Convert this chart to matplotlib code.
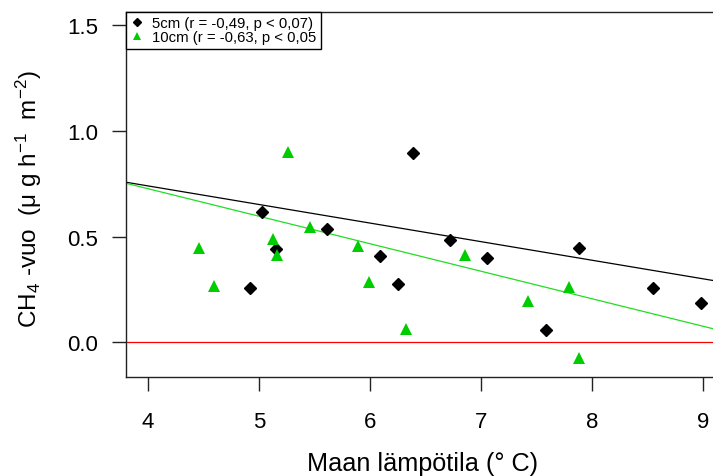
"""CH4 flux vs. soil temperature at 5 cm and 10 cm depth
"""
import matplotlib
matplotlib.use('Agg')
import matplotlib.pyplot as plt

plt.rcParams['font.family'] = ['Liberation Sans', 'DejaVu Sans']
plt.rcParams['mathtext.fontset'] = 'custom'
plt.rcParams['mathtext.rm'] = 'Liberation Sans'
plt.rcParams['mathtext.it'] = 'Liberation Sans:italic'

# 5 cm soil temperature vs. CH4 flux
temp_5cm = [4.924, 5.027, 5.156, 5.618, 6.090, 6.255, 6.387,
            6.723, 7.057, 7.586, 7.888, 8.555, 8.987]
flux_5cm = [0.256, 0.617, 0.443, 0.537, 0.408, 0.275, 0.897,
            0.484, 0.398, 0.058, 0.446, 0.256, 0.185]

# 10 cm soil temperature vs. CH4 flux
temp_10cm = [4.459, 4.595, 5.126, 5.165, 5.264, 5.462, 5.892,
             5.994, 6.327, 6.861, 7.423, 7.793, 7.888]
flux_10cm = [0.447, 0.264, 0.489, 0.414, 0.901, 0.544, 0.455,
             0.283, 0.063, 0.411, 0.194, 0.259, -0.076]

# fitted lines (intercept, slope)
fit_5cm = (1.092, -0.0880)
fit_10cm = (1.248, -0.1303)

labels = ["5cm (r = -0,49, p < 0,07)", "10cm (r = -0,63, p < 0,05"]
x_ticks = [4, 5, 6, 7, 8, 9]
y_ticks = [0.0, 0.5, 1.0, 1.5]

GREEN = '#00CD00'

fig = plt.figure(figsize=(7.13, 4.77), dpi=100)
ax = fig.add_axes([0.1763, 0.2082, 0.8404, 0.7646])

xlim = (3.8, 9.2)
ax.set_xlim(xlim)
ax.set_ylim(-0.164, 1.564)

ax.axhline(0, color='red', lw=0.9, zorder=1)
for (a, b), col in ((fit_5cm, 'black'), (fit_10cm, '#22DD22')):
    ax.plot(xlim, [a + b * xlim[0], a + b * xlim[1]], color=col, lw=0.9, zorder=2)

h1, = ax.plot(temp_5cm, flux_5cm, 'D', color='black', ms=5.8, ls='none', zorder=3)
h2, = ax.plot(temp_10cm, flux_10cm, '^', color=GREEN, ms=8.5, ls='none',
              markeredgewidth=0, zorder=3)

leg = ax.legend([h1, h2], labels, loc='upper left', borderaxespad=0,
                fontsize=10.7, borderpad=0.3, labelspacing=0,
                handlelength=0.9, handletextpad=0.6, markerscale=0.65,
                fancybox=False, framealpha=1, edgecolor='black')
leg.get_frame().set_linewidth(1.0)

ax.set_xticks(x_ticks)
ax.set_xticklabels([str(t) for t in x_ticks])
ax.set_yticks(y_ticks)
ax.set_yticklabels([f"{t:.1f}" for t in y_ticks])
ax.tick_params(axis='both', direction='out', length=10, width=1,
               labelsize=16, color='#222222')
ax.tick_params(axis='x', pad=15)
ax.tick_params(axis='y', pad=10)
for side in ('left', 'bottom', 'top', 'right'):
    ax.spines[side].set_linewidth(1.0)
    ax.spines[side].set_color('#222222')

ax.set_xlabel("Maan lämpötila (° C)", fontsize=18.2)
ax.xaxis.set_label_coords(0.495, -0.205)
ax.set_ylabel(r"CH$_4$ -vuo  (μ g h$^{-1}$  m$^{-2}$)", fontsize=17.5)
ax.yaxis.set_label_coords(-0.137, 0.49)

fig.savefig('out.png', dpi=100)
